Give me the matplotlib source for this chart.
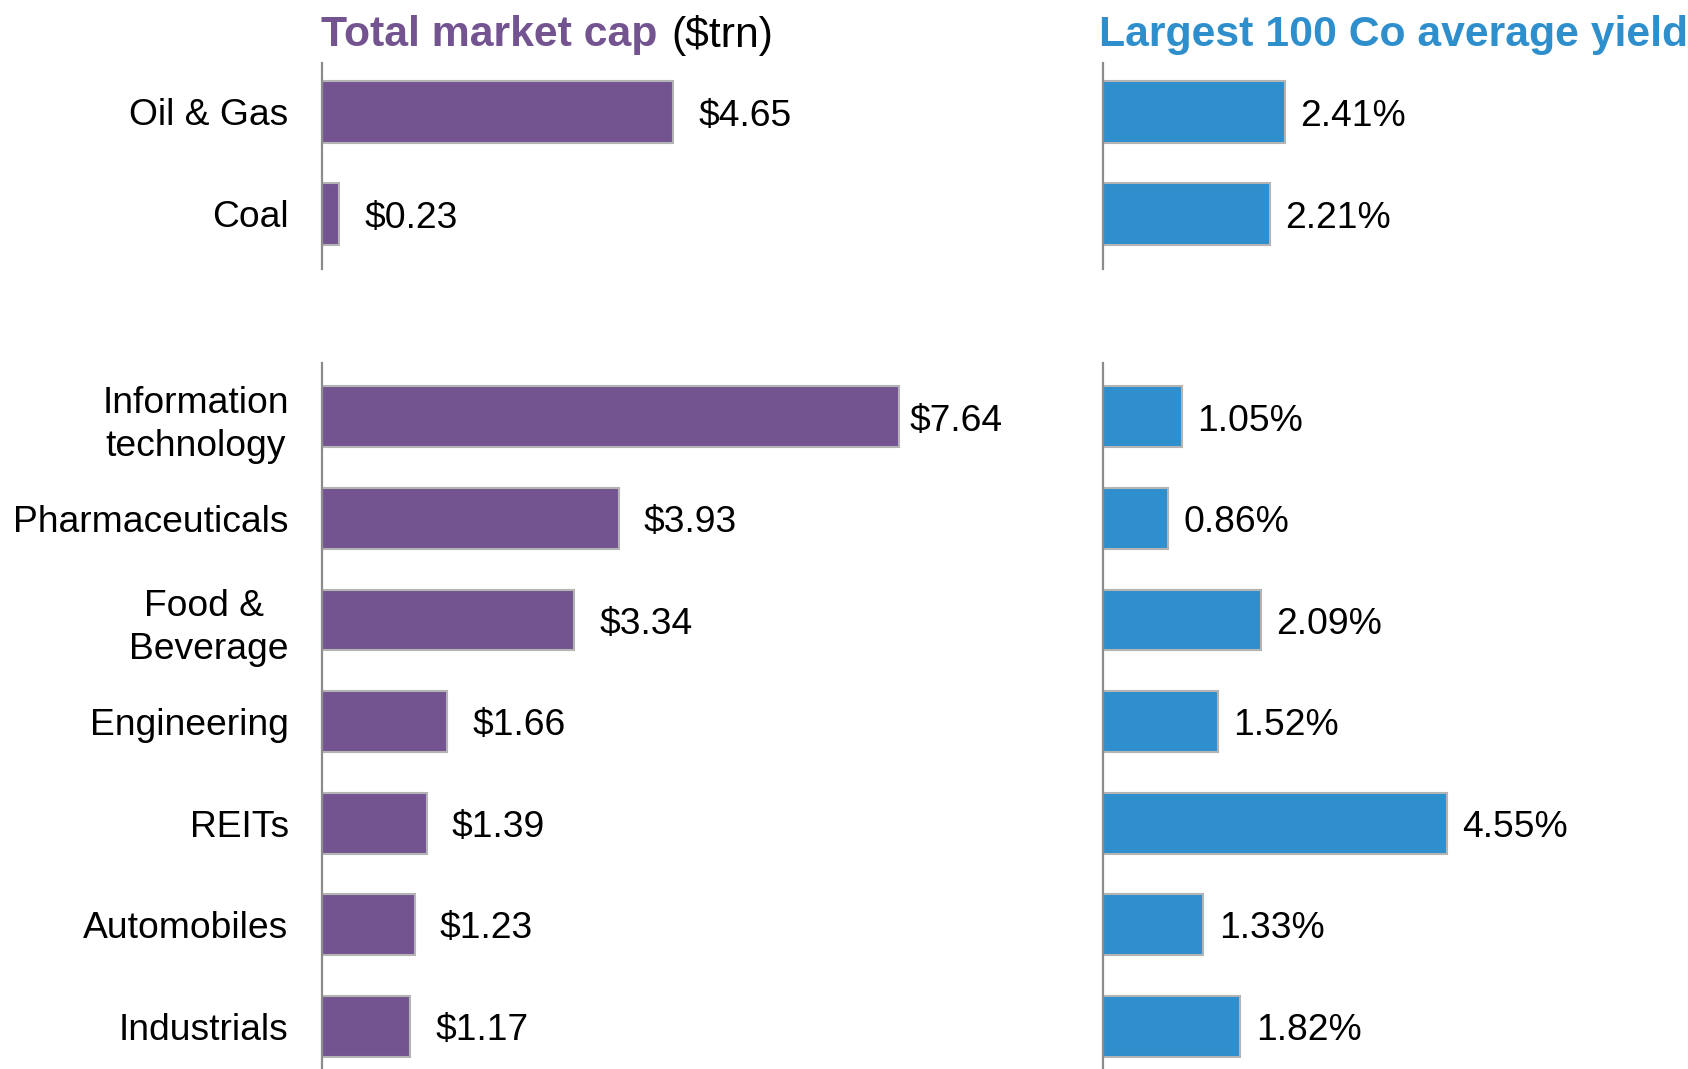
import matplotlib
matplotlib.use('Agg')
import matplotlib.pyplot as plt

plt.rcParams['font.family'] = ['Liberation Sans', 'DejaVu Sans']

# data
top_cats = ['Oil & Gas', 'Coal']
top_cap = [4.65, 0.23]
top_yield = [2.41, 2.21]

bot_cats = ['Information\ntechnology', 'Pharmaceuticals', 'Food & \nBeverage',
            'Engineering', 'REITs', 'Automobiles', 'Industrials']
bot_cap = [7.64, 3.93, 3.34, 1.66, 1.39, 1.23, 1.17]
bot_yield = [1.05, 0.86, 2.09, 1.52, 4.55, 1.33, 1.82]

purple = '#735490'
blue = '#2f8fcc'
edge = '#b4b4b4'
spine = '#8c8c8c'

W, H = 1688, 1069
fig = plt.figure(figsize=(W / 100, H / 100), dpi=100)

PX = 75.5  # pixels per unit on both panels
FS = 26.8


def make_ax(x0, x1, ytop, ybot):
    ax = fig.add_axes([x0 / W, 1 - ybot / H, (x1 - x0) / W, (ybot - ytop) / H])
    ax.set_xlim(0, (x1 - x0) / PX)
    for s in ['top', 'right', 'bottom']:
        ax.spines[s].set_visible(False)
    ax.spines['left'].set_color(spine)
    ax.spines['left'].set_linewidth(1.6)
    ax.set_xticks([])
    ax.tick_params(axis='y', length=0, pad=24, labelsize=FS)
    return ax


def draw(ax, cats, vals, color, fmt, ylim, labels=True, pads=None):
    y = list(range(len(cats)))
    ax.barh(y, vals, height=0.6, color=color, edgecolor=edge, linewidth=1.5)
    ax.set_ylim(*ylim)
    ax.set_yticks(y)
    if labels:
        ax.set_yticklabels(cats, ha='right', multialignment='center', linespacing=1.3)
    else:
        ax.set_yticklabels([])
    for i, v in enumerate(vals):
        pad = pads.get(cats[i], 18) if pads else 18
        ax.annotate(fmt.format(v), (v, i), xytext=(pad, -3), textcoords='offset points',
                    ha='left', va='center', fontsize=FS)


left_pads = {'Information\ntechnology': 8}

ax1 = make_ax(322, 1000, 63, 269)
draw(ax1, top_cats, top_cap, purple, '${:.2f}', (1.54, -0.48), pads=left_pads)
ax2 = make_ax(322, 1000, 363, 1069)
draw(ax2, bot_cats, bot_cap, purple, '${:.2f}', (6.42, -0.53), pads=left_pads)

ax3 = make_ax(1103, 1688, 63, 269)
draw(ax3, top_cats, top_yield, blue, '{:.2f}%', (1.54, -0.48), labels=False,
     pads={c: 11 for c in top_cats})
ax4 = make_ax(1103, 1688, 363, 1069)
draw(ax4, bot_cats, bot_yield, blue, '{:.2f}%', (6.42, -0.53), labels=False,
     pads={c: 11 for c in bot_cats})

# titles
TY = 1 - 35 / H
t1 = fig.text(321 / W, TY, 'Total market cap', color=purple, fontsize=30.8,
              fontweight='bold', ha='left', va='center')
fig.canvas.draw()
bb = t1.get_window_extent()
fig.text((bb.x1 + 14) / W, TY, '($trn)', color='black', fontsize=30.8,
         ha='left', va='center')
fig.text(1099 / W, TY, 'Largest 100 Co average yield', color=blue, fontsize=30.8,
         fontweight='bold', ha='left', va='center')

fig.savefig('out.png', dpi=100)
